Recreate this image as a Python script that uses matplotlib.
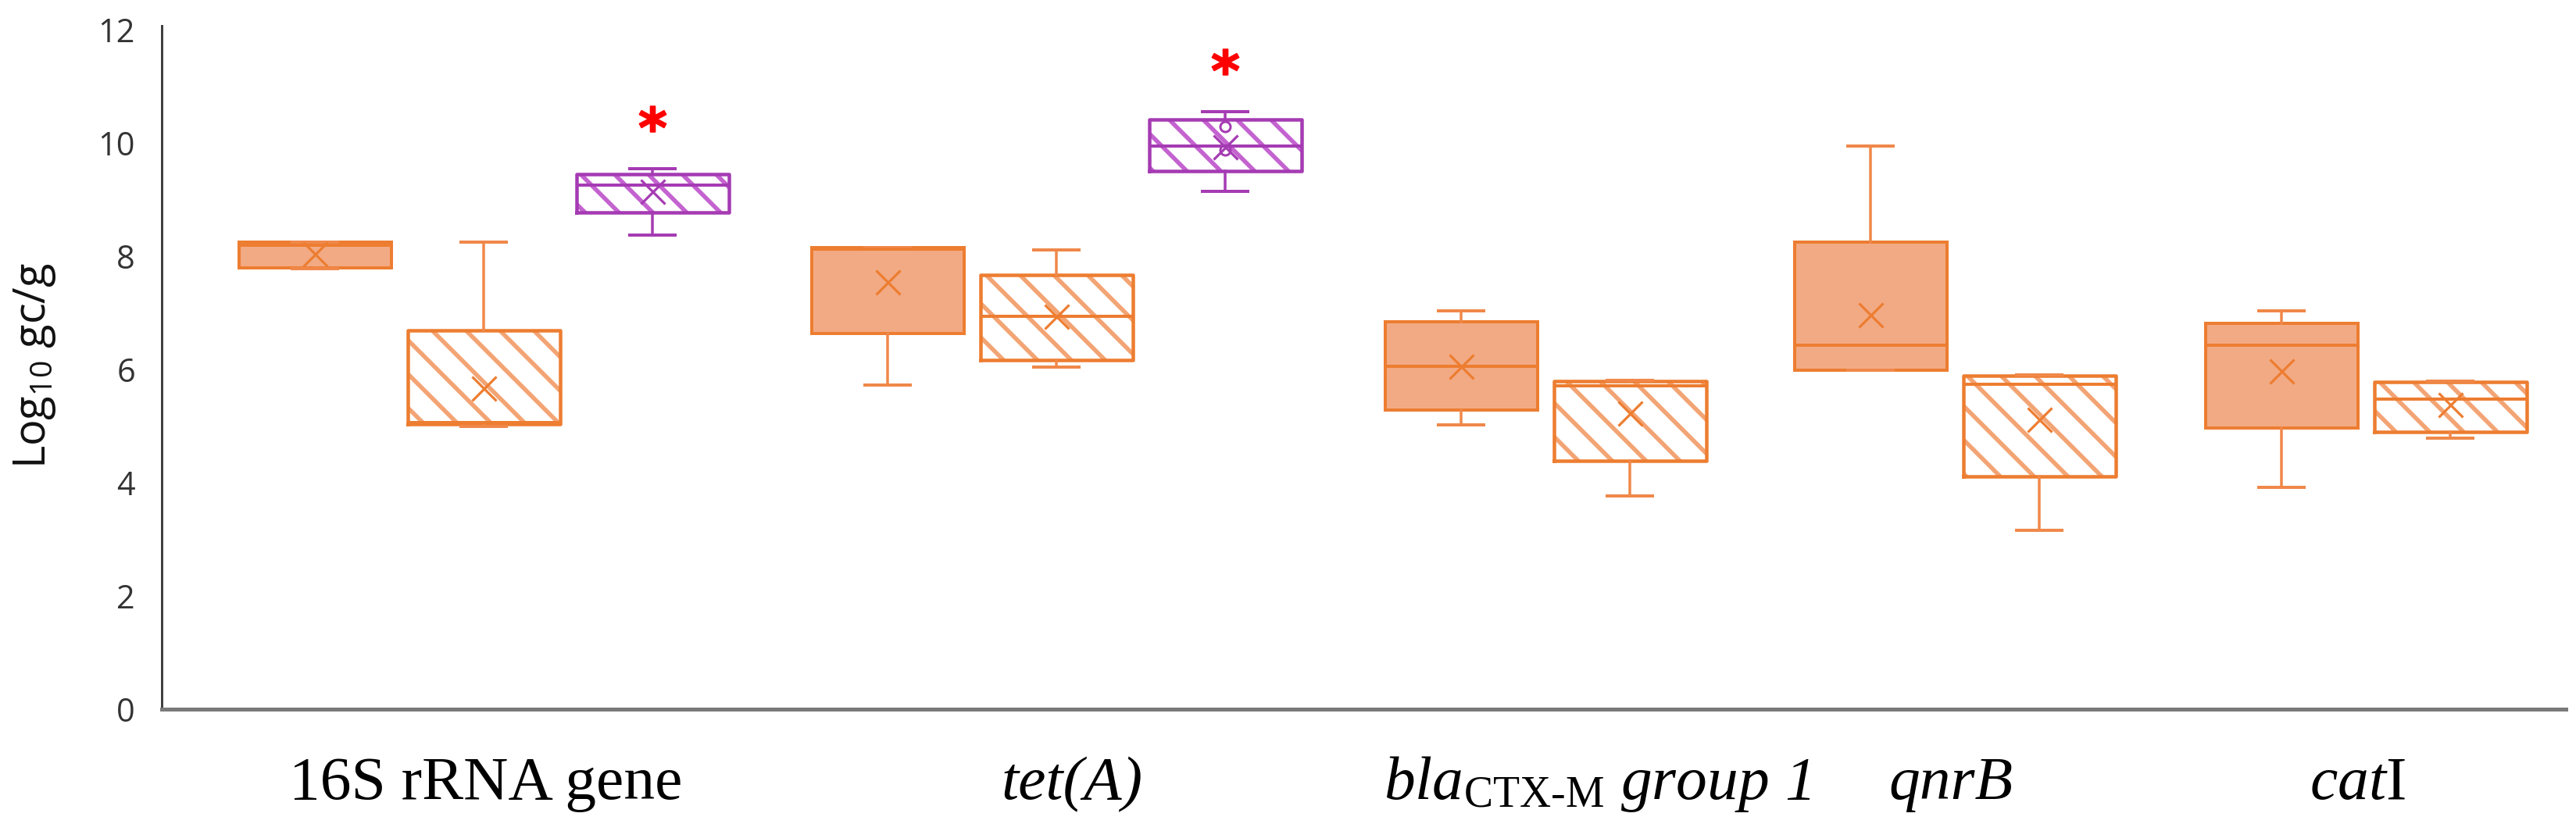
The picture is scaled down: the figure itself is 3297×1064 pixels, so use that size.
import matplotlib
matplotlib.use("Agg")
import matplotlib.pyplot as plt

# ---------------- data (Log10 gc/g) ----------------
genes = ["16S rRNA gene", "tet(A)", "blaCTX-M group 1", "qnrB", "catI"]

# series 1: solid orange boxes
s1_low = [7.78, 5.73, 5.02, 5.98, 3.92]
s1_q1 = [7.80, 6.63, 5.28, 5.98, 4.97]
s1_med = [8.20, 8.13, 6.05, 6.43, 6.43]
s1_q3 = [8.25, 8.15, 6.84, 8.25, 6.82]
s1_high = [8.25, 8.15, 7.03, 9.95, 7.03]
s1_mean = [8.04, 7.54, 6.05, 6.96, 5.97]

# series 2: hatched orange boxes
s2_low = [5.00, 6.04, 3.76, 3.16, 4.79]
s2_q1 = [5.03, 6.17, 4.39, 4.11, 4.90]
s2_med = [5.06, 6.94, 5.71, 5.74, 5.48]
s2_q3 = [6.69, 7.67, 5.79, 5.89, 5.78]
s2_high = [8.25, 8.11, 5.81, 5.91, 5.80]
s2_mean = [5.67, 6.94, 5.23, 5.12, 5.38]

# series 3: hatched purple boxes (16S rRNA gene, tet(A))
s3_low = [8.37, 9.14]
s3_q1 = [8.78, 9.51]
s3_med = [9.26, 9.95]
s3_q3 = [9.45, 10.42]
s3_high = [9.54, 10.55]
s3_mean = [9.14, 9.93]
s3_fliers = [[], [10.29, 9.88]]

# significance marks above purple boxes
sig_y = [10.43, 11.44]

yticks = [0, 2, 4, 6, 8, 10, 12]

# ---------------- layout ----------------
W, H, DPI = 3297, 1064, 130
PT = 72.0 / DPI  # pixel -> point

group_start = [403, 1136, 1870, 2394, 2920]
slot = 216
box_w = 195
cap_w = 58
pos1 = [g for g in group_start]
pos2 = [g + slot for g in group_start]
pos3 = [g + 2 * slot for g in group_start[:2]]
label_x = [622, 1372, 2044, 2497, 3017]

ORANGE = "#ED7D31"
ORANGE_FILL = "#F2AA84"
ORANGE_LINE = "#F0884A"
ORANGE_HATCH = "#F3A474"
PURPLE = "#A53BB3"
PURPLE_HATCH = "#C463D0"

plt.rcParams["hatch.linewidth"] = 5.5 * PT
plt.rcParams["mathtext.fontset"] = "custom"
plt.rcParams["mathtext.rm"] = "Liberation Serif"
plt.rcParams["mathtext.it"] = "Liberation Serif:italic"
plt.rcParams["mathtext.default"] = "regular"


def make_stats(low, q1, med, q3, high, mean, fliers=None):
    out = []
    for i in range(len(low)):
        out.append(dict(whislo=low[i], q1=q1[i], med=med[i], q3=q3[i],
                        whishi=high[i], mean=mean[i],
                        fliers=(fliers[i] if fliers else [])))
    return out


fig = plt.figure(figsize=(W / DPI, H / DPI), dpi=DPI)
ax = fig.add_axes([207 / W, 1 - 908 / H, (3284 - 207) / W, (908 - 33) / H])
ax.set_xlim(207, 3284)
ax.set_ylim(0, 12.07)

st1 = make_stats(s1_low, s1_q1, s1_med, s1_q3, s1_high, s1_mean)
st2 = make_stats(s2_low, s2_q1, s2_med, s2_q3, s2_high, s2_mean)
st3 = make_stats(s3_low, s3_q1, s3_med, s3_q3, s3_high, s3_mean, s3_fliers)


def full_props(edge, line):
    return dict(
        whiskerprops=dict(color=line, linewidth=3.5 * PT),
        capprops=dict(color=line, linewidth=4 * PT),
        medianprops=dict(color=edge, linewidth=4 * PT),
        meanprops=dict(marker="x", markeredgecolor=edge, markersize=31 * PT,
                       markeredgewidth=3.2 * PT, linestyle="none"),
        flierprops=dict(marker="o", markerfacecolor="none", markeredgecolor=edge,
                        markersize=13 * PT, markeredgewidth=3 * PT),
    )


# solid boxes
ax.bxp(st1, positions=pos1, widths=box_w, capwidths=cap_w, patch_artist=True,
       showmeans=True, showfliers=True,
       boxprops=dict(facecolor=ORANGE_FILL, edgecolor=ORANGE, linewidth=4 * PT),
       **full_props(ORANGE, ORANGE_LINE))

# hatched boxes: first the hatch, then outlines and the rest
for st, pos, edge, hatchc, line in [(st2, pos2, ORANGE, ORANGE_HATCH, ORANGE_LINE),
                                    (st3, pos3, PURPLE, PURPLE_HATCH, PURPLE)]:
    ax.bxp(st, positions=pos, widths=box_w, patch_artist=True,
           showmeans=False, showfliers=False, showcaps=False,
           boxprops=dict(facecolor="white", edgecolor=hatchc, linewidth=0, hatch="\\"),
           whiskerprops=dict(linewidth=0), medianprops=dict(linewidth=0))
    ax.bxp(st, positions=pos, widths=box_w, capwidths=cap_w, patch_artist=False,
           showmeans=True, showfliers=True,
           boxprops=dict(color=edge, linewidth=4.5 * PT),
           **full_props(edge, line))

# significance asterisks
ax.plot(pos3, sig_y, linestyle="none", marker=r"$\mathbf{*}$", color="#FF0000",
        markersize=34 * PT)

# axes styling
for s in ["top", "right"]:
    ax.spines[s].set_visible(False)
ax.spines["left"].set_color("#404040")
ax.spines["left"].set_linewidth(3 * PT)
ax.spines["bottom"].set_color("#7a7a7a")
ax.spines["bottom"].set_linewidth(5 * PT)
ax.set_yticks(yticks)
ax.set_yticklabels([str(v) for v in yticks])
ax.tick_params(axis="y", length=0, pad=34 * PT, labelsize=23, labelcolor="#333333")
for t in ax.get_yticklabels():
    t.set_fontfamily("Open Sans")
ax.set_xticks([])

ax.text(45 / W, 1 - 468 / H, "Log$_{10}$ gc/g", transform=fig.transFigure,
        rotation=90, ha="center", va="center", fontsize=31,
        fontfamily="Open Sans", color="#111111")

label_texts = [
    ("16S rRNA gene", "normal"),
    ("tet(A)", "italic"),
    (r"$bla_{\mathrm{CTX‐M}}$ group 1", "italic"),
    ("qnrB", "italic"),
    (r"$\mathit{cat}\mathrm{I}$", "normal"),
]
yb = -(1023 - 908) / (908 - 33)
for x, (txt, sty) in zip(label_x, label_texts):
    ax.text(x, yb, txt, transform=ax.get_xaxis_transform(), ha="center",
            va="baseline", fontsize=44, fontfamily="Liberation Serif",
            fontstyle=sty, color="black")

fig.savefig("out.png", dpi=DPI)
